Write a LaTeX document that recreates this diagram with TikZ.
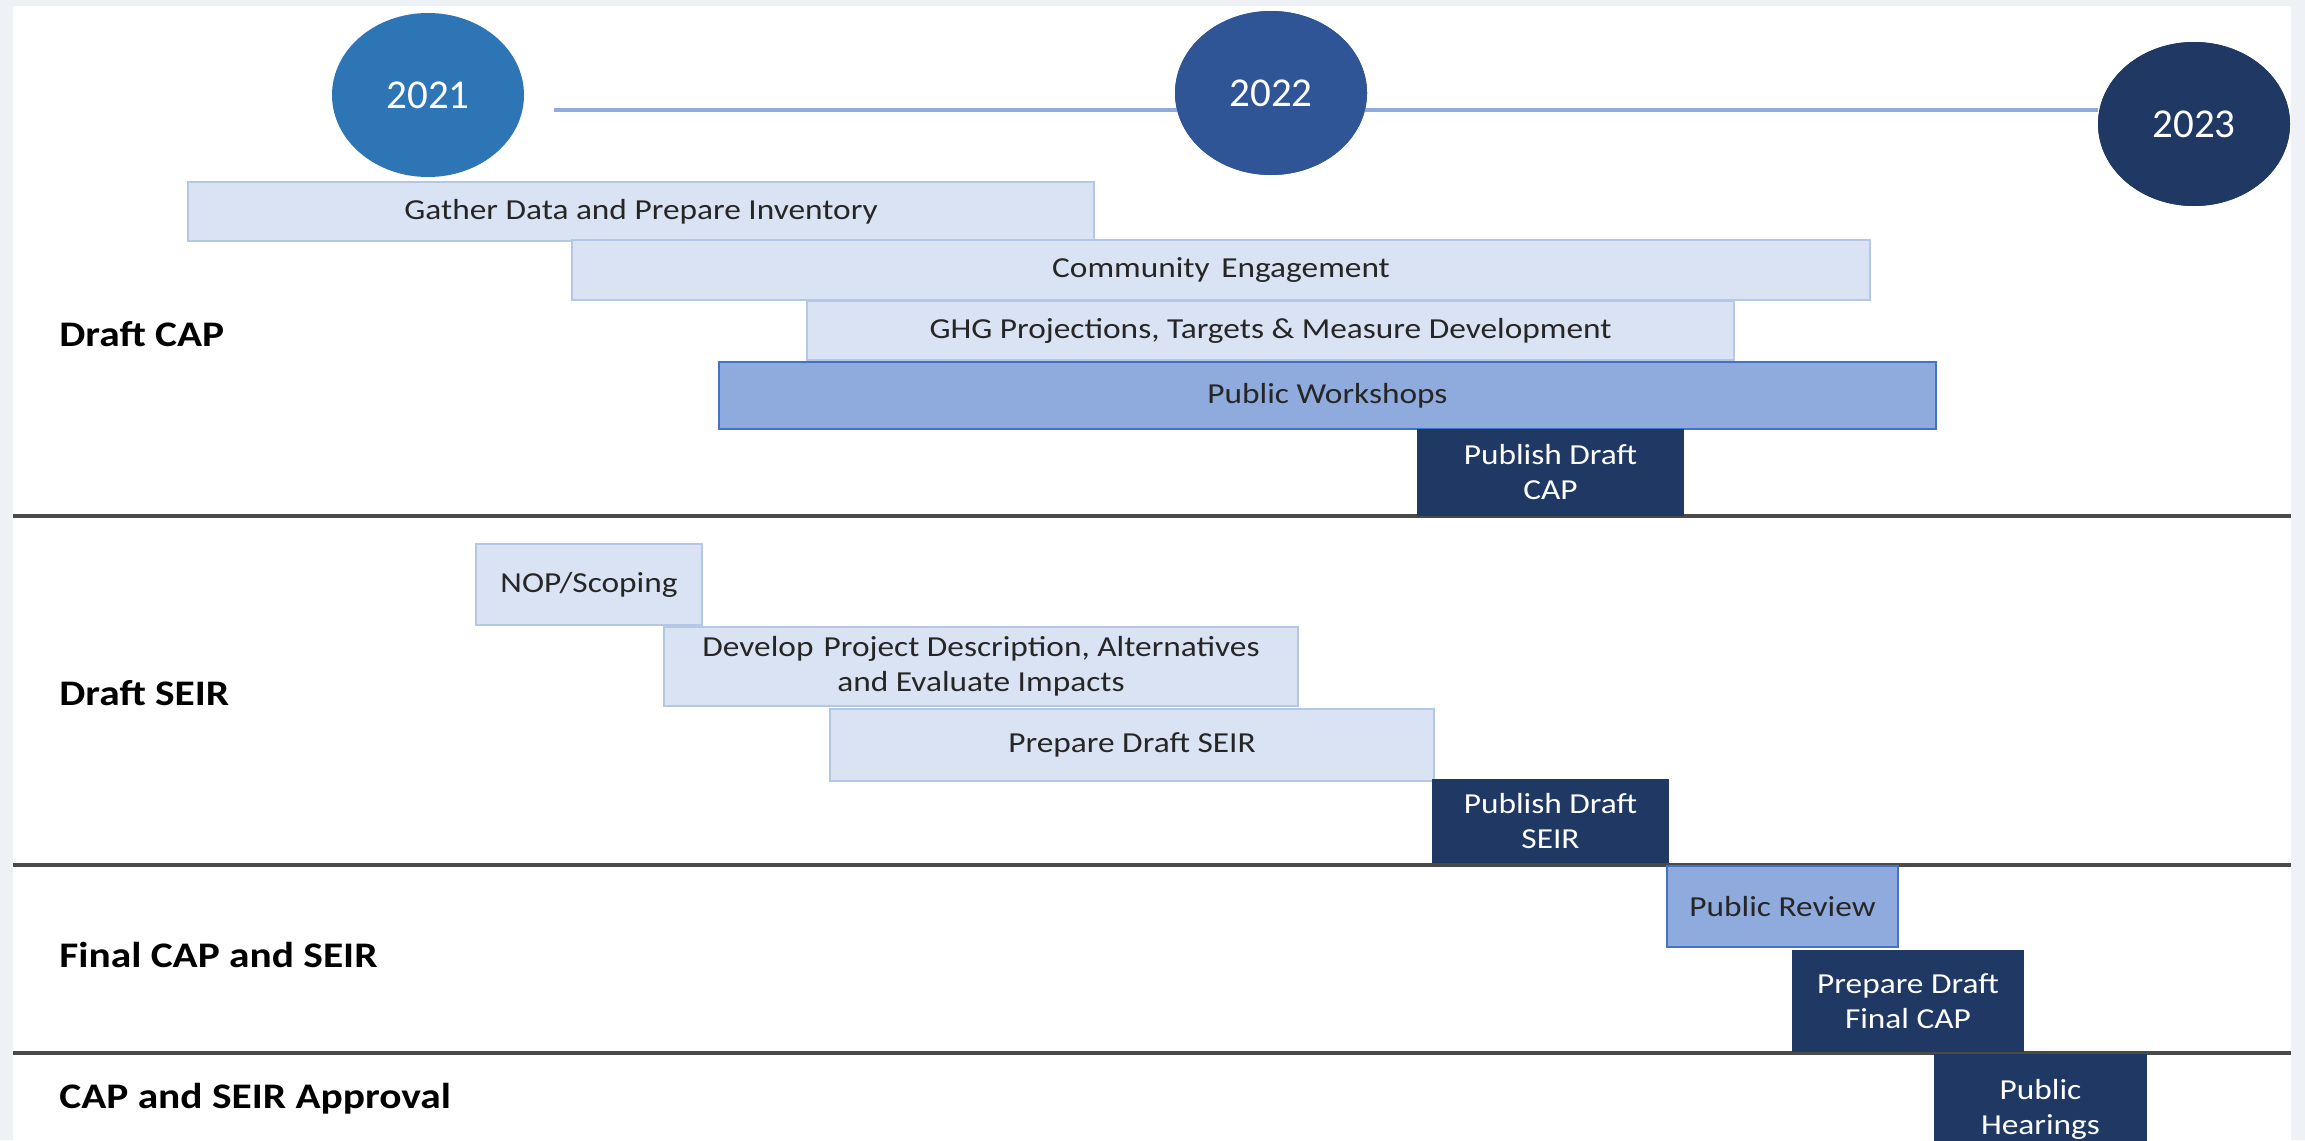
\documentclass[tikz,border=0pt]{standalone}
\usepackage{fontspec}
\setmainfont{Carlito}[FakeStretch=1.15]
\newfontfamily\yearfont{Carlito}
\usetikzlibrary{shapes.geometric}
\definecolor{bgband}{HTML}{EEF2F7}
\definecolor{lightfill}{HTML}{DAE3F3}
\definecolor{lightline}{HTML}{B4C7E7}
\definecolor{midfill}{HTML}{8FAADC}
\definecolor{midline}{HTML}{4472C4}
\definecolor{darkfill}{HTML}{203864}
\definecolor{yearA}{HTML}{2E75B6}
\definecolor{yearB}{HTML}{2F5597}
\definecolor{yearC}{HTML}{203864}
\definecolor{sepline}{HTML}{4A4A4A}
\definecolor{tline}{HTML}{8FAADC}
\tikzset{
  bodytext/.style={font=\fontsize{14.5pt}{17.5pt}\selectfont},
  lightbar/.style={rectangle, fill=lightfill, draw=lightline, line width=1pt, inner sep=0pt, outer sep=0pt, bodytext, text=black!85, align=center},
  midbar/.style={rectangle, fill=midfill, draw=midline, line width=1.4pt, inner sep=0pt, outer sep=0pt, bodytext, text=black!85, align=center},
  darkbar/.style={rectangle, fill=darkfill, inner sep=0pt, outer sep=0pt, bodytext, text=white, align=center},
  year/.style={ellipse, inner sep=0pt, minimum width=96pt, minimum height=82pt, text=white, font=\yearfont\fontsize{20.5pt}{24pt}\selectfont},
  rowlabel/.style={anchor=west, inner sep=0pt, font=\bfseries\fontsize{18pt}{21pt}\selectfont, text=black},
  separator/.style={draw=sepline, line width=1.8pt},
  timeline/.style={draw=tline, line width=1.6pt}
}
\newcommand\gbox[7]{%
  \node[#1, minimum width={(#5-#3)*0.5pt}, minimum height={(#6-#4)*0.5pt}] (#2) at ({(#3+#5)/2},{(#4+#6)/2}) {#7};}
\begin{document}
\begin{tikzpicture}[x=0.5pt,y=-0.5pt]
\fill[bgband] (0,0) rectangle (2305,1140);
\fill[white] (13,6) rectangle (2291,1140);
\useasboundingbox (0,0) rectangle (2305,1140);

% timeline
\coordinate (tstart) at (554,110);
\node[year, fill=yearA] (y2021) at (428,95) {2021};
\node[year, fill=yearB] (y2022) at (1271,93) {};
\node[year, fill=yearC] (y2023) at (2194,124) {};
\draw[timeline] (tstart) -- (y2023.west |- tstart);
\node[year, fill=yearB] (y2022b) at (1271,93) {2022};
\node[year, fill=yearC] (y2023b) at (2194,124) {2023};

% separators
\coordinate (sA1) at (13,516); \coordinate (sA2) at (2291,516);
\coordinate (sB1) at (13,865); \coordinate (sB2) at (2291,865);
\coordinate (sC1) at (13,1053); \coordinate (sC2) at (2291,1053);
\draw[separator] (sA1) -- (sA2);
\draw[separator] (sB1) -- (sB2);
\draw[separator] (sC1) -- (sC2);

% row labels
\node[rowlabel] (lab1) at (59,334) {Draft CAP};
\node[rowlabel] (lab2) at (59,693) {Draft SEIR};
\node[rowlabel] (lab3) at (59,955) {Final CAP and SEIR};
\node[rowlabel] (lab4) at (59,1099) {CAP and SEIR Approval};

% Draft CAP bars
\gbox{lightbar}{gather}{188}{182}{1094}{241}{Gather Data and Prepare Inventory}
\gbox{lightbar}{community}{572}{240}{1870}{300}{Community\hspace{0.4em}Engagement}
\gbox{lightbar}{ghg}{807}{301}{1734}{360}{GHG Projections, Targets \& Measure Development}
\gbox{midbar}{workshops}{719}{362}{1936}{429}{Public Workshops}
\gbox{darkbar}{pubcap}{1417}{429}{1684}{516}{Publish Draft\\CAP}

% Draft SEIR bars
\gbox{lightbar}{nop}{476}{544}{702}{625}{NOP/Scoping}
\gbox{lightbar}{develop}{664}{627}{1298}{706}{Develop\hspace{0.35em}Project Description, Alternatives\\and Evaluate Impacts}
\gbox{lightbar}{prepseir}{830}{709}{1434}{781}{Prepare Draft SEIR}
\gbox{darkbar}{pubseir}{1432}{779}{1669}{863}{Publish Draft\\SEIR}

% Final CAP and SEIR
\gbox{midbar}{review}{1667}{866}{1898}{947}{Public Review}
\gbox{darkbar}{prepfinal}{1792}{950}{2024}{1052}{Prepare Draft\\Final CAP}

% Approval
\gbox{darkbar}{hearings}{1934}{1054}{2147}{1164}{Public\\Hearings}
\end{tikzpicture}
\end{document}
